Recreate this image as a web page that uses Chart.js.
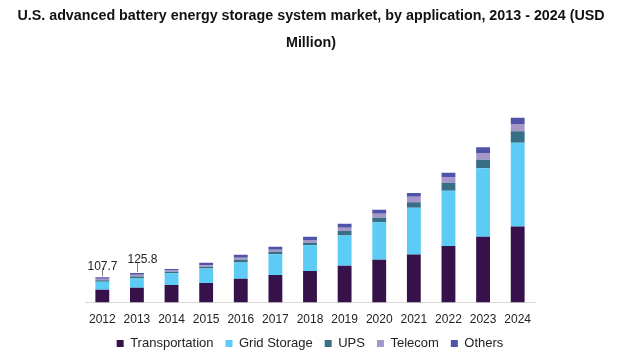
<!DOCTYPE html>
<html>
<head>
<meta charset="utf-8">
<script src="https://cdn.jsdelivr.net/npm/chart.js@4.4.0/dist/chart.umd.min.js"></script>
<style>
  html, body { margin: 0; padding: 0; background: #fff; }
  #wrap { width: 622px; height: 360px; }
</style>
</head>
<body>
<div id="wrap"><canvas id="chart"></canvas></div>
<script>
// years and values (USD Million)
const years = ['2012', '2013', '2014', '2015', '2016', '2017', '2018', '2019', '2020', '2021', '2022', '2023', '2024'];
const transportation = [55, 63, 75, 84, 102, 118, 135, 157, 183, 206, 242, 282, 325];
const gridStorage = [34, 40, 50, 62, 69, 89, 110, 130, 160, 199, 236, 292, 358];
const ups = [7, 9, 7, 7, 12, 10, 11, 19, 20, 24, 33, 37, 49];
const telecom = [6, 7, 5, 7, 9, 9, 12, 14, 17, 23, 24, 28, 31];
const others = [6, 7, 7, 10, 13, 13, 14, 17, 17, 17, 20, 25, 27];
const totalLabels = ['107.7', '125.8'];
const titleLines = ['U.S. advanced battery energy storage system market, by application, 2013 - 2024 (USD', 'Million)'];

// title drawn across the full canvas width (the built-in one gets squeezed by the side padding)
const titlePlugin = {
    id: 'wideTitle',
    afterDraw(chart) {
        const ctx = chart.ctx;
        ctx.save();
        ctx.font = 'bold 14.3px "Liberation Sans", Arial, sans-serif';
        ctx.fillStyle = '#111';
        ctx.textAlign = 'center';
        ctx.textBaseline = 'middle';
        titleLines.forEach((line, i) => {
            ctx.fillText(line, chart.width / 2, 16 + i * 27);
        });
        ctx.restore();
    }
};

// little callouts over the first two bars
const calloutPlugin = {
    id: 'callouts',
    afterDatasetsDraw(chart) {
        const ctx = chart.ctx;
        const x = chart.scales.x, y = chart.scales.y;
        const offsets = [[0, 0], [5, 2]];
        ctx.save();
        ctx.font = '12px "Liberation Sans", Arial, sans-serif';
        ctx.fillStyle = '#222';
        ctx.strokeStyle = '#7f7f7f';
        ctx.lineWidth = 1;
        ctx.textAlign = 'center';
        totalLabels.forEach((txt, i) => {
            const total = transportation[i] + gridStorage[i] + ups[i] + telecom[i] + others[i];
            const px = Math.round(x.getPixelForValue(i)) + 0.5;
            const top = y.getPixelForValue(total);
            ctx.beginPath();
            ctx.moveTo(px, top - 1);
            ctx.lineTo(px, top - 9 - offsets[i][1]);
            ctx.stroke();
            ctx.fillText(txt, px + offsets[i][0], top - 11 - offsets[i][1]);
        });
        ctx.restore();
    }
};

const ctx = document.getElementById('chart').getContext('2d');
new Chart(ctx, {
    type: 'bar',
    data: {
        labels: years,
        datasets: [
            { label: 'Transportation', data: transportation, backgroundColor: '#37114a' },
            { label: 'Grid Storage', data: gridStorage, backgroundColor: '#5ccbf5' },
            { label: 'UPS', data: ups, backgroundColor: '#386e86' },
            { label: 'Telecom', data: telecom, backgroundColor: '#a796c8' },
            { label: 'Others', data: others, backgroundColor: '#4f54a8' }
        ]
    },
    options: {
        responsive: true,
        maintainAspectRatio: false,
        animation: false,
        layout: { padding: { left: 85, right: 87, top: 71, bottom: 0 } },
        datasets: { bar: { barPercentage: 0.4, categoryPercentage: 1 } },
        scales: {
            x: {
                stacked: true,
                grid: { display: false, drawTicks: false },
                border: { color: '#d9d9d9' },
                ticks: { color: '#222', padding: 10, font: { size: 12, family: '"Liberation Sans", Arial, sans-serif' } },
                afterFit(scale) { scale.height -= 12; }
            },
            y: {
                stacked: true,
                display: false,
                min: 0,
                max: 990
            }
        },
        plugins: {
            legend: {
                position: 'bottom',
                labels: {
                    color: '#222',
                    boxWidth: 7,
                    boxHeight: 7,
                    padding: 12,
                    font: { size: 13, family: '"Liberation Sans", Arial, sans-serif' }
                }
            },
            tooltip: { enabled: false }
        }
    },
    plugins: [calloutPlugin, titlePlugin]
});
</script>
</body>
</html>
